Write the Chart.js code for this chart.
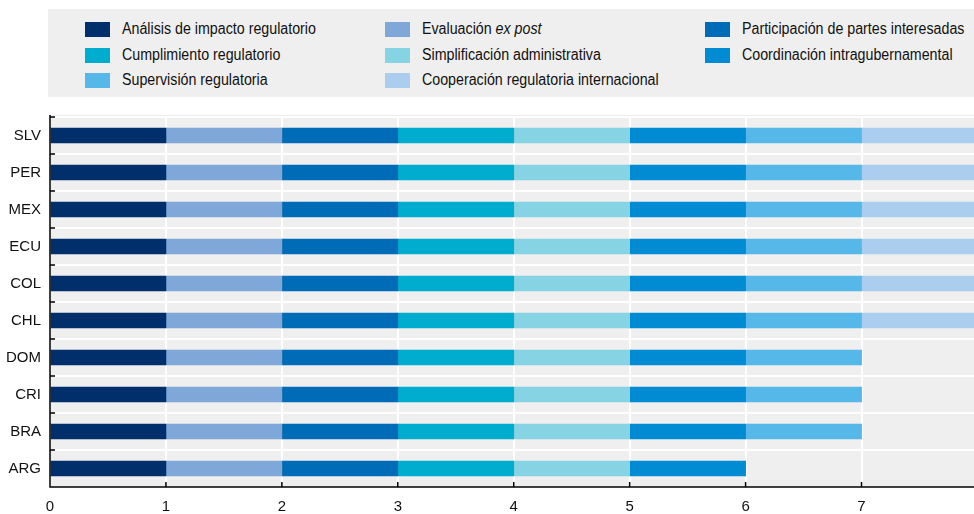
<!DOCTYPE html>
<html>
<head>
<meta charset="utf-8">
<script src="https://cdn.jsdelivr.net/npm/chart.js@4.4.1/dist/chart.umd.min.js"></script>
<style>
  html, body { margin: 0; padding: 0; background: #fff; }
  #wrap { position: relative; width: 974px; height: 514px; }
  #legend { position: absolute; left: 48px; top: 9px; width: 926px; height: 88px; background: #efefef;
            font-family: "Liberation Sans", Arial, sans-serif; font-size: 16px; color: #111; }
  .sw { position: absolute; width: 25px; height: 15px; }
  .lb { position: absolute; line-height: 16px; white-space: nowrap; transform: scaleX(0.89); transform-origin: 0 50%; }
</style>
</head>
<body>
<div id="wrap">
  <canvas id="myChart" width="974" height="514"></canvas>
  <div id="legend"></div>
</div>
<script>
const countries = ['SLV', 'PER', 'MEX', 'ECU', 'COL', 'CHL', 'DOM', 'CRI', 'BRA', 'ARG'];

const analisis       = [1, 1, 1, 1, 1, 1, 1, 1, 1, 1];
const evaluacion     = [1, 1, 1, 1, 1, 1, 1, 1, 1, 1];
const participacion  = [1, 1, 1, 1, 1, 1, 1, 1, 1, 1];
const cumplimiento   = [1, 1, 1, 1, 1, 1, 1, 1, 1, 1];
const simplificacion = [1, 1, 1, 1, 1, 1, 1, 1, 1, 1];
const coordinacion   = [1, 1, 1, 1, 1, 1, 1, 1, 1, 1];
const supervision    = [1, 1, 1, 1, 1, 1, 1, 1, 1, 0];
const cooperacion    = [1, 1, 1, 1, 1, 1, 0, 0, 0, 0];

const xTicks = [0, 1, 2, 3, 4, 5, 6, 7];

// stacking order left to right
const series = [
    { label: 'Análisis de impacto regulatorio', html: 'Análisis de impacto regulatorio', data: analisis, color: '#002F6C' },
    { label: 'Evaluación ex post', html: 'Evaluación <i>ex post</i>', data: evaluacion, color: '#7FA8D9' },
    { label: 'Participación de partes interesadas', html: 'Participación de partes interesadas', data: participacion, color: '#006BB6' },
    { label: 'Cumplimiento regulatorio', html: 'Cumplimiento regulatorio', data: cumplimiento, color: '#00ADCF' },
    { label: 'Simplificación administrativa', html: 'Simplificación administrativa', data: simplificacion, color: '#86D3E4' },
    { label: 'Coordinación intragubernamental', html: 'Coordinación intragubernamental', data: coordinacion, color: '#008BD3' },
    { label: 'Supervisión regulatoria', html: 'Supervisión regulatoria', data: supervision, color: '#55B8E8' },
    { label: 'Cooperación regulatoria internacional', html: 'Cooperación regulatoria internacional', data: cooperacion, color: '#ABCDEE' }
];

// legend layout (row-major, 3 columns)
const legendCols = [{ sw: 37, tx: 74 }, { sw: 337, tx: 374 }, { sw: 657, tx: 694 }];
const legendRows = [13, 39, 64];
const legendEl = document.getElementById('legend');
series.forEach((s, i) => {
    const col = legendCols[i % 3], row = legendRows[Math.floor(i / 3)];
    const sw = document.createElement('div');
    sw.className = 'sw';
    sw.style.left = col.sw + 'px';
    sw.style.top = row + 'px';
    sw.style.background = s.color;
    legendEl.appendChild(sw);
    const lb = document.createElement('div');
    lb.className = 'lb';
    lb.style.left = col.tx + 'px';
    lb.style.top = (row - 1) + 'px';
    lb.innerHTML = s.html;
    legendEl.appendChild(lb);
});

const font = { family: '"Liberation Sans", Arial, sans-serif', size: 15 };

const frame = {
    id: 'frame',
    beforeDraw(chart) {
        const a = chart.chartArea, c = chart.ctx;
        c.save();
        c.fillStyle = '#efefef';
        c.fillRect(a.left, a.top - 2, a.right - a.left, a.bottom - a.top + 2);
        c.restore();
    },
    afterDraw(chart) {
        const a = chart.chartArea, c = chart.ctx, x = chart.scales.x;
        c.save();
        c.strokeStyle = '#000';
        c.lineWidth = 1.5;
        c.beginPath();
        c.moveTo(a.left, a.top - 2);
        c.lineTo(a.left, a.bottom);
        c.lineTo(a.right, a.bottom);
        xTicks.forEach(v => {
            const px = x.getPixelForValue(v);
            c.moveTo(px, a.bottom);
            c.lineTo(px, a.bottom - 5);
        });
        const n = countries.length, h = (a.bottom - a.top) / n;
        for (let i = 0; i < n; i++) {
            const py = a.top + i * h;
            c.moveTo(a.left, py);
            c.lineTo(a.left + 5, py);
        }
        c.stroke();
        c.restore();
    }
};

new Chart(document.getElementById('myChart'), {
    type: 'bar',
    data: {
        labels: countries,
        datasets: series.map(s => ({
            label: s.label,
            data: s.data,
            backgroundColor: s.color,
            borderWidth: 0,
            barThickness: 15
        }))
    },
    plugins: [frame],
    options: {
        indexAxis: 'y',
        responsive: false,
        animation: false,
        layout: { padding: { top: 117, right: 0, left: 0, bottom: 0 } },
        plugins: { legend: { display: false }, tooltip: { enabled: false } },
        scales: {
            x: {
                stacked: true,
                min: 0,
                max: 7.97,
                afterBuildTicks: s => { s.ticks = xTicks.map(v => ({ value: v })); },
                afterFit: s => { s.height = 27; },
                border: { display: false },
                grid: { color: '#ffffff', lineWidth: 2, drawTicks: false },
                ticks: { color: '#111', font: font, padding: 11 }
            },
            y: {
                stacked: true,
                afterFit: s => { s.width = 50; },
                border: { display: false },
                grid: { color: '#ffffff', lineWidth: 2, drawTicks: false, offset: true },
                ticks: { color: '#111', font: font, padding: 9 }
            }
        }
    }
});
</script>
</body>
</html>
